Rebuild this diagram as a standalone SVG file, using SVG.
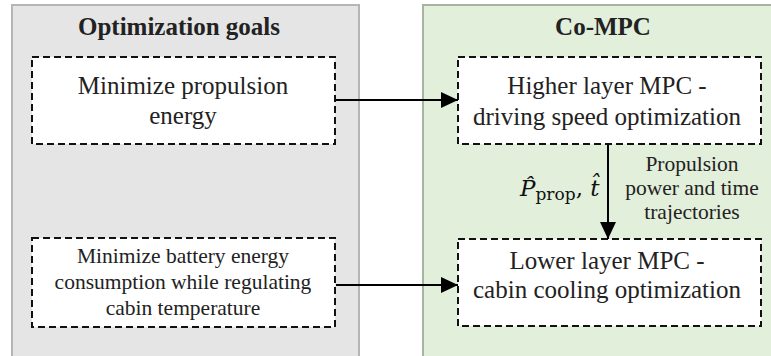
<svg xmlns="http://www.w3.org/2000/svg" width="771" height="356" viewBox="0 0 771 356" font-family="Liberation Serif, DejaVu Serif, serif">
<style>
.panel-l{fill:#e5e5e5;stroke:#b5b5b5;stroke-width:2}
.panel-r{fill:#e2efda;stroke:#a9b3a3;stroke-width:2}
.box{fill:#fff;stroke:#111;stroke-width:2;stroke-dasharray:7 4}
.title{font-weight:bold;font-size:25px;text-anchor:middle;fill:#222}
.t{font-size:25px;text-anchor:middle;fill:#222}
.s{font-size:21.5px;text-anchor:middle;fill:#222}
.edge{stroke:#000;stroke-width:2;fill:none}
.math{font-size:23px;fill:#111}
</style>
<defs>
<marker id="arr" markerUnits="userSpaceOnUse" markerWidth="18" markerHeight="16" refX="17" refY="8" orient="auto">
<path d="M0,0 L17,8 L0,16 Z" fill="#000"/>
</marker>
</defs>
<g id="panel-goals">
<rect class="panel-l" x="12" y="5" width="347" height="360"/>
<text class="title" x="179" y="35" font-family="Liberation Serif">Optimization goals</text>
</g>
<g id="panel-compc">
<rect class="panel-r" x="423" y="5" width="360" height="360"/>
<text class="title" x="603" y="35" font-family="Liberation Serif">Co-MPC</text>
</g>
<g id="goal-propulsion">
<rect class="box" x="32" y="57" width="303" height="87"/>
<text class="t" x="183" y="94" font-family="Liberation Serif">Minimize propulsion</text>
<text class="t" x="183" y="124" font-family="Liberation Serif">energy</text>
</g>
<g id="goal-battery">
<rect class="box" x="32" y="238" width="303" height="89"/>
<text class="s" x="183" y="263" font-family="Liberation Serif">Minimize battery energy</text>
<text class="s" x="183" y="289" font-family="Liberation Serif">consumption while regulating</text>
<text class="s" x="183" y="315" font-family="Liberation Serif">cabin temperature</text>
</g>
<g id="higher-mpc">
<rect class="box" x="458" y="57" width="303" height="87"/>
<text class="t" x="607" y="94" font-family="Liberation Serif">Higher layer MPC -</text>
<text class="t" x="607" y="125" font-family="Liberation Serif">driving speed optimization</text>
</g>
<g id="lower-mpc">
<rect class="box" x="458" y="239" width="303" height="87"/>
<text class="t" x="607" y="269" font-family="Liberation Serif">Lower layer MPC -</text>
<text class="t" x="607" y="298" font-family="Liberation Serif">cabin cooling optimization</text>
</g>
<g id="connectors">
<line class="edge" x1="336" y1="100" x2="458" y2="100" marker-end="url(#arr)"/>
<line class="edge" x1="336" y1="285" x2="458" y2="285" marker-end="url(#arr)"/>
<line class="edge" x1="608" y1="145" x2="608" y2="239" marker-end="url(#arr)"/>
<text class="math" x="520" y="196" font-family="DejaVu Serif"><tspan font-style="italic">P̂</tspan><tspan font-size="17" dy="4">prop</tspan><tspan dy="-4">, </tspan><tspan font-style="italic">t̂</tspan></text>
<text class="s" x="692" y="171" font-family="Liberation Serif">Propulsion</text>
<text class="s" x="692" y="195" font-family="Liberation Serif">power and time</text>
<text class="s" x="692" y="219" font-family="Liberation Serif">trajectories</text>
</g>
</svg>
